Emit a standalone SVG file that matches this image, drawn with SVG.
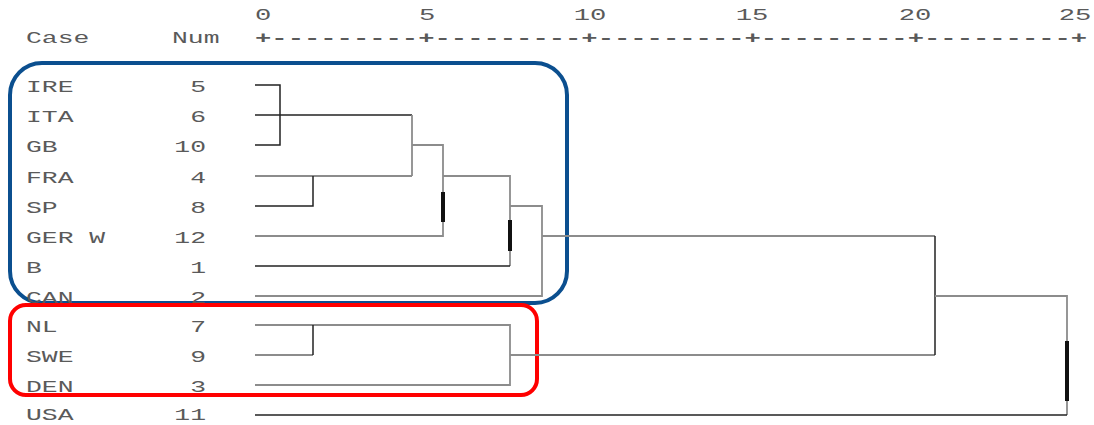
<svg xmlns="http://www.w3.org/2000/svg" width="1094" height="425" viewBox="0 0 1094 425">
<style>
  text { font-family: "Liberation Mono", "DejaVu Sans Mono", monospace; font-size: 16.5px; fill: #5a5a5a; }
  .num { text-anchor: end; }
  .ax { text-anchor: middle; font-size: 17px; }
  .dk { stroke: #222; stroke-width: 1.5; fill: none; }
  .lt { stroke: #8c8c8c; stroke-width: 1.8; fill: none; }
  .thick { stroke: #111; stroke-width: 4; fill: none; }
</style>
<rect width="1094" height="425" fill="#fff"/>

<g id="axis" transform="scale(1.6 1)">
  <text class="ax" x="164.4" y="20">0</text>
  <text class="ax" x="266.9" y="20">5</text>
  <text class="ax" x="368.75" y="20">10</text>
  <text class="ax" x="470" y="20">15</text>
  <text class="ax" x="571.9" y="20">20</text>
  <text class="ax" x="671.9" y="20">25</text>
  <text x="16.25" y="43">Case</text>
  <text x="107.5" y="43">Num</text>
  <text x="159.4" y="43" style="font-size:17px;font-weight:bold">+---------+---------+---------+---------+---------+</text>
</g>

<g id="groups">
  <rect id="blue-group" x="10" y="63" width="557" height="240" rx="32" fill="none" stroke="#0b4f8f" stroke-width="4"/>
  <rect id="red-group" x="10" y="305" width="527" height="90" rx="16" fill="none" stroke="#ff0000" stroke-width="4"/>
</g>

<g id="labels" transform="scale(1.6 1)">
  <g id="row-IRE"><text x="16.25" y="92">IRE</text><text class="num" x="128.75" y="92">5</text></g>
  <g id="row-ITA"><text x="16.25" y="122">ITA</text><text class="num" x="128.75" y="122">6</text></g>
  <g id="row-GB"><text x="16.25" y="152">GB</text><text class="num" x="128.75" y="152">10</text></g>
  <g id="row-FRA"><text x="16.25" y="183">FRA</text><text class="num" x="128.75" y="183">4</text></g>
  <g id="row-SP"><text x="16.25" y="213">SP</text><text class="num" x="128.75" y="213">8</text></g>
  <g id="row-GERW"><text x="16.25" y="243" xml:space="preserve">GER W</text><text class="num" x="128.75" y="243">12</text></g>
  <g id="row-B"><text x="16.25" y="273">B</text><text class="num" x="128.75" y="273">1</text></g>
  <g id="row-CAN"><text x="16.25" y="303">CAN</text><text class="num" x="128.75" y="303">2</text></g>
  <g id="row-NL"><text x="16.25" y="332">NL</text><text class="num" x="128.75" y="332">7</text></g>
  <g id="row-SWE"><text x="16.25" y="362">SWE</text><text class="num" x="128.75" y="362">9</text></g>
  <g id="row-DEN"><text x="16.25" y="392">DEN</text><text class="num" x="128.75" y="392">3</text></g>
  <g id="row-USA"><text x="16.25" y="420">USA</text><text class="num" x="128.75" y="420">11</text></g>
</g>

<g id="connectors">
  <path class="dk" d="M255,85 H280 V145 H255"/>
  <path class="dk" d="M255,115 H412"/>
  <path class="lt" d="M412,115 V176"/>
  <path class="lt" d="M255,176 H412"/>
  <path class="dk" d="M255,206 H313 V176"/>
  <path class="lt" d="M412,145 H443 V236 H255"/>
  <path class="thick" d="M443,192 V222"/>
  <path class="lt" d="M443,176 H510 V266"/>
  <path class="dk" d="M255,266 H510"/>
  <path class="thick" d="M510,220 V251"/>
  <path class="lt" d="M510,206 H542 V296 H255"/>
  <path class="lt" d="M542,236 H935"/>
  <path class="lt" d="M255,325 H510 V385 H255"/>
  <path class="lt" d="M255,355 H313"/>
  <path class="dk" d="M313,325 V355"/>
  <path class="lt" d="M510,355 H935"/>
  <path class="dk" d="M935,236 V355"/>
  <path class="lt" d="M935,296 H1067 V415"/>
  <path class="thick" d="M1067,341 V401"/>
  <path class="dk" d="M255,415 H1067"/>
</g>
</svg>
